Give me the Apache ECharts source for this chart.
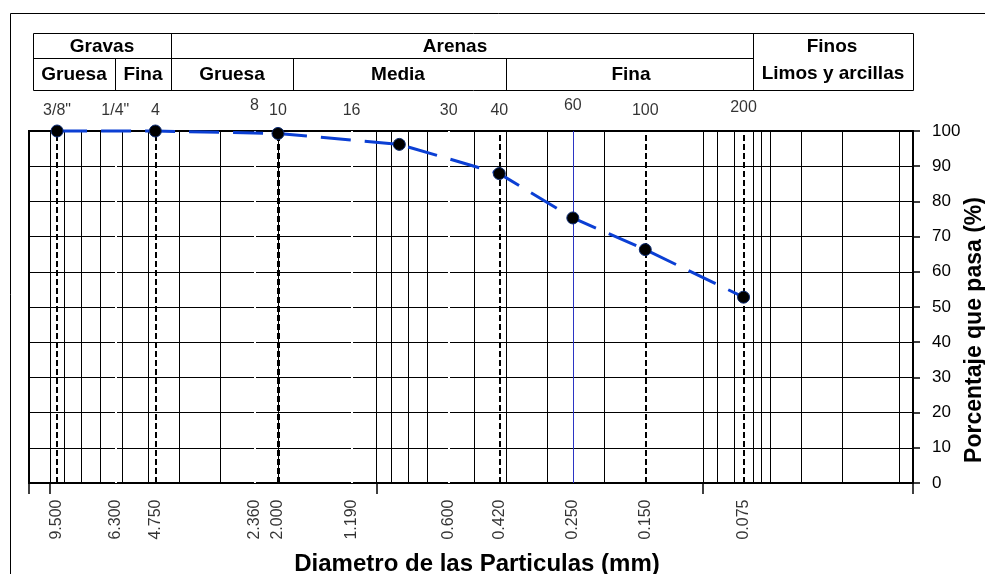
<!DOCTYPE html>
<html>
<head>
<meta charset="utf-8">
<script src="https://cdn.jsdelivr.net/npm/echarts@6/dist/echarts.min.js"></script>
<style>
  html, body { margin: 0; padding: 0; background: #fff; }
  #plot { width: 985px; height: 574px; }
</style>
</head>
<body>
<div id="plot"></div>
<script>
// tamices (mm) y su numero
var sieveSizes = [9.5, 6.3, 4.75, 2.36, 2.0, 1.19, 0.6, 0.42, 0.25, 0.15, 0.075];
var sieveNames = ['3/8"', '1/4"', '4', '8', '10', '16', '30', '40', '60', '100', '200'];

// curva granulometrica
var testSizes = [9.5, 4.75, 2.0, 0.85, 0.42, 0.25, 0.15, 0.075];
var passing = [100, 100, 99.3, 96.2, 87.9, 75.3, 66.3, 52.8];

// lineas verticales de la cuadricula
var gridSizes = [10, 9, 8, 7, 6, 5, 4, 3, 2, 1, 0.9, 0.8, 0.7, 0.5, 0.4, 0.3, 0.2,
  0.1, 0.09, 0.08, 0.07, 0.066, 0.062, 0.05, 0.0375, 0.025];
var dashedSizes = [9.5, 4.75, 2.0, 0.42, 0.15, 0.075];
var blankSizes = [6.3, 2.36, 1.19, 0.6];
var blueSize = 0.25;

var xMin = 0.0227, xMax = 11.58;
var FONT = '"Liberation Sans", Arial, sans-serif';

var myChart = echarts.init(document.getElementById('plot'));

var vLines = [];
gridSizes.forEach(function (s) {
  vLines.push({ xAxis: s, lineStyle: { color: '#000', width: 1, type: 'solid' } });
});
blankSizes.forEach(function (s) {
  vLines.push({ xAxis: s, lineStyle: { color: '#fff', width: 2, type: 'solid' } });
});
vLines.push({ xAxis: blueSize, lineStyle: { color: '#2b35c4', width: 1, type: 'solid' } });
dashedSizes.forEach(function (s) {
  vLines.push({ xAxis: s, lineStyle: { color: '#000', width: s === 2.0 ? 3 : 2, type: [6, 3] } });
});

var topLabels = sieveSizes.map(function (s, i) {
  var n = sieveNames[i];
  var lift = (n === '8' || n === '60') ? -5 : (n === '200' ? -3 : 0);
  return { value: [s, 100], name: n, label: { offset: [0, lift] } };
});
var bottomLabels = sieveSizes.map(function (s) {
  return { value: [s, 0], name: s.toFixed(3) };
});

// tabla de clasificacion (encabezado)
function hline(x1, x2, y) {
  return { type: 'line', silent: true, shape: { x1: x1, y1: y + 0.5, x2: x2, y2: y + 0.5 }, style: { stroke: '#000', lineWidth: 1 } };
}
function vline(x, y1, y2) {
  return { type: 'line', silent: true, shape: { x1: x + 0.5, y1: y1, x2: x + 0.5, y2: y2 }, style: { stroke: '#000', lineWidth: 1 } };
}
function cell(text, x, y) {
  return {
    type: 'text', silent: true,
    style: { text: text, x: x, y: y, align: 'center', verticalAlign: 'middle', textAlign: 'center', textVerticalAlign: 'middle',
      font: 'bold 19px ' + FONT, fill: '#000' }
  };
}

var option = {
  animation: false,
  backgroundColor: '#fff',
  graphic: [
    { type: 'rect', silent: true, shape: { x: 10.5, y: 13.5, width: 1000, height: 600 }, style: { fill: 'none', stroke: '#000', lineWidth: 1 } },
    { type: 'rect', silent: true, shape: { x: 33.5, y: 33.5, width: 880, height: 57 }, style: { fill: 'none', stroke: '#000', lineWidth: 1 } },
    hline(33, 753, 58),
    vline(171, 33, 90),
    vline(753, 33, 90),
    vline(115, 58, 90),
    vline(293, 58, 90),
    vline(506, 58, 90),
    cell('Gravas', 102, 47),
    cell('Arenas', 455, 47),
    cell('Finos', 832, 47),
    cell('Limos y arcillas', 833, 74),
    cell('Gruesa', 74, 75),
    cell('Fina', 143, 75),
    cell('Gruesa', 232, 75),
    cell('Media', 398, 75),
    cell('Fina', 631, 75)
  ],
  grid: {
    left: 29, right: 72, top: 131, bottom: 91,
    outerBoundsMode: 'none',
    containLabel: false,
    show: true, borderColor: '#000', borderWidth: 2, backgroundColor: '#fff'
  },
  xAxis: {
    type: 'log',
    logBase: 10,
    min: xMin,
    max: xMax,
    inverse: true,
    axisLine: { show: true, lineStyle: { color: '#000', width: 2 } },
    axisTick: { show: true, length: 11, lineStyle: { color: '#000', width: 1.5 } },
    axisLabel: { show: false },
    splitLine: { show: false },
    minorTick: { show: false },
    name: 'Diametro de las Particulas (mm)',
    nameLocation: 'middle',
    nameGap: 69,
    nameMoveOverlap: false,
    nameTextStyle: { fontFamily: FONT, fontSize: 24, fontWeight: 'bold', color: '#000', padding: [0, 0, 0, 12] }
  },
  yAxis: {
    type: 'value',
    position: 'right',
    min: 0,
    max: 100,
    interval: 10,
    axisLine: { show: true, lineStyle: { color: '#000', width: 2 } },
    axisTick: { show: true, length: 7, lineStyle: { color: '#000', width: 1.5 } },
    axisLabel: { margin: 19, fontFamily: FONT, fontSize: 17, color: '#000' },
    splitLine: { show: true, lineStyle: { color: '#000', width: 1 } },
    name: 'Porcentaje que pasa (%)',
    nameLocation: 'middle',
    nameGap: 50,
    nameMoveOverlap: false,
    nameTextStyle: { fontFamily: FONT, fontSize: 23, fontWeight: 'bold', color: '#000', padding: [0, 46, 0, 0] }
  },
  series: [
    {
      name: 'cuadricula',
      type: 'scatter',
      data: [],
      z: 1,
      silent: true,
      markLine: {
        silent: true,
        precision: 5,
        symbol: ['none', 'none'],
        label: { show: false },
        animation: false,
        data: vLines
      }
    },
    {
      name: 'tamices',
      type: 'scatter',
      z: 4,
      clip: false,
      silent: true,
      symbolSize: 1,
      itemStyle: { color: 'rgba(0,0,0,0)' },
      label: {
        show: true, position: 'top', distance: 12,
        formatter: '{b}', fontFamily: FONT, fontSize: 16, color: '#000'
      },
      data: topLabels
    },
    {
      name: 'aberturas',
      type: 'scatter',
      z: 4,
      clip: false,
      silent: true,
      symbolSize: 1,
      itemStyle: { color: 'rgba(0,0,0,0)' },
      label: {
        show: true, position: 'bottom', distance: 16, rotate: 90,
        align: 'right', verticalAlign: 'middle',
        formatter: '{b}', fontFamily: FONT, fontSize: 16, color: '#000'
      },
      data: bottomLabels
    },
    {
      name: 'Curva granulometrica',
      type: 'line',
      z: 5,
      clip: false,
      data: testSizes.map(function (s, i) { return [s, passing[i]]; }),
      symbol: 'circle',
      symbolSize: 12,
      itemStyle: { color: '#000', borderColor: '#0b2a73', borderWidth: 1 },
      lineStyle: { color: '#0b3fd4', width: 3, type: [30, 14] }
    }
  ]
};

myChart.setOption(option);
</script>
</body>
</html>
